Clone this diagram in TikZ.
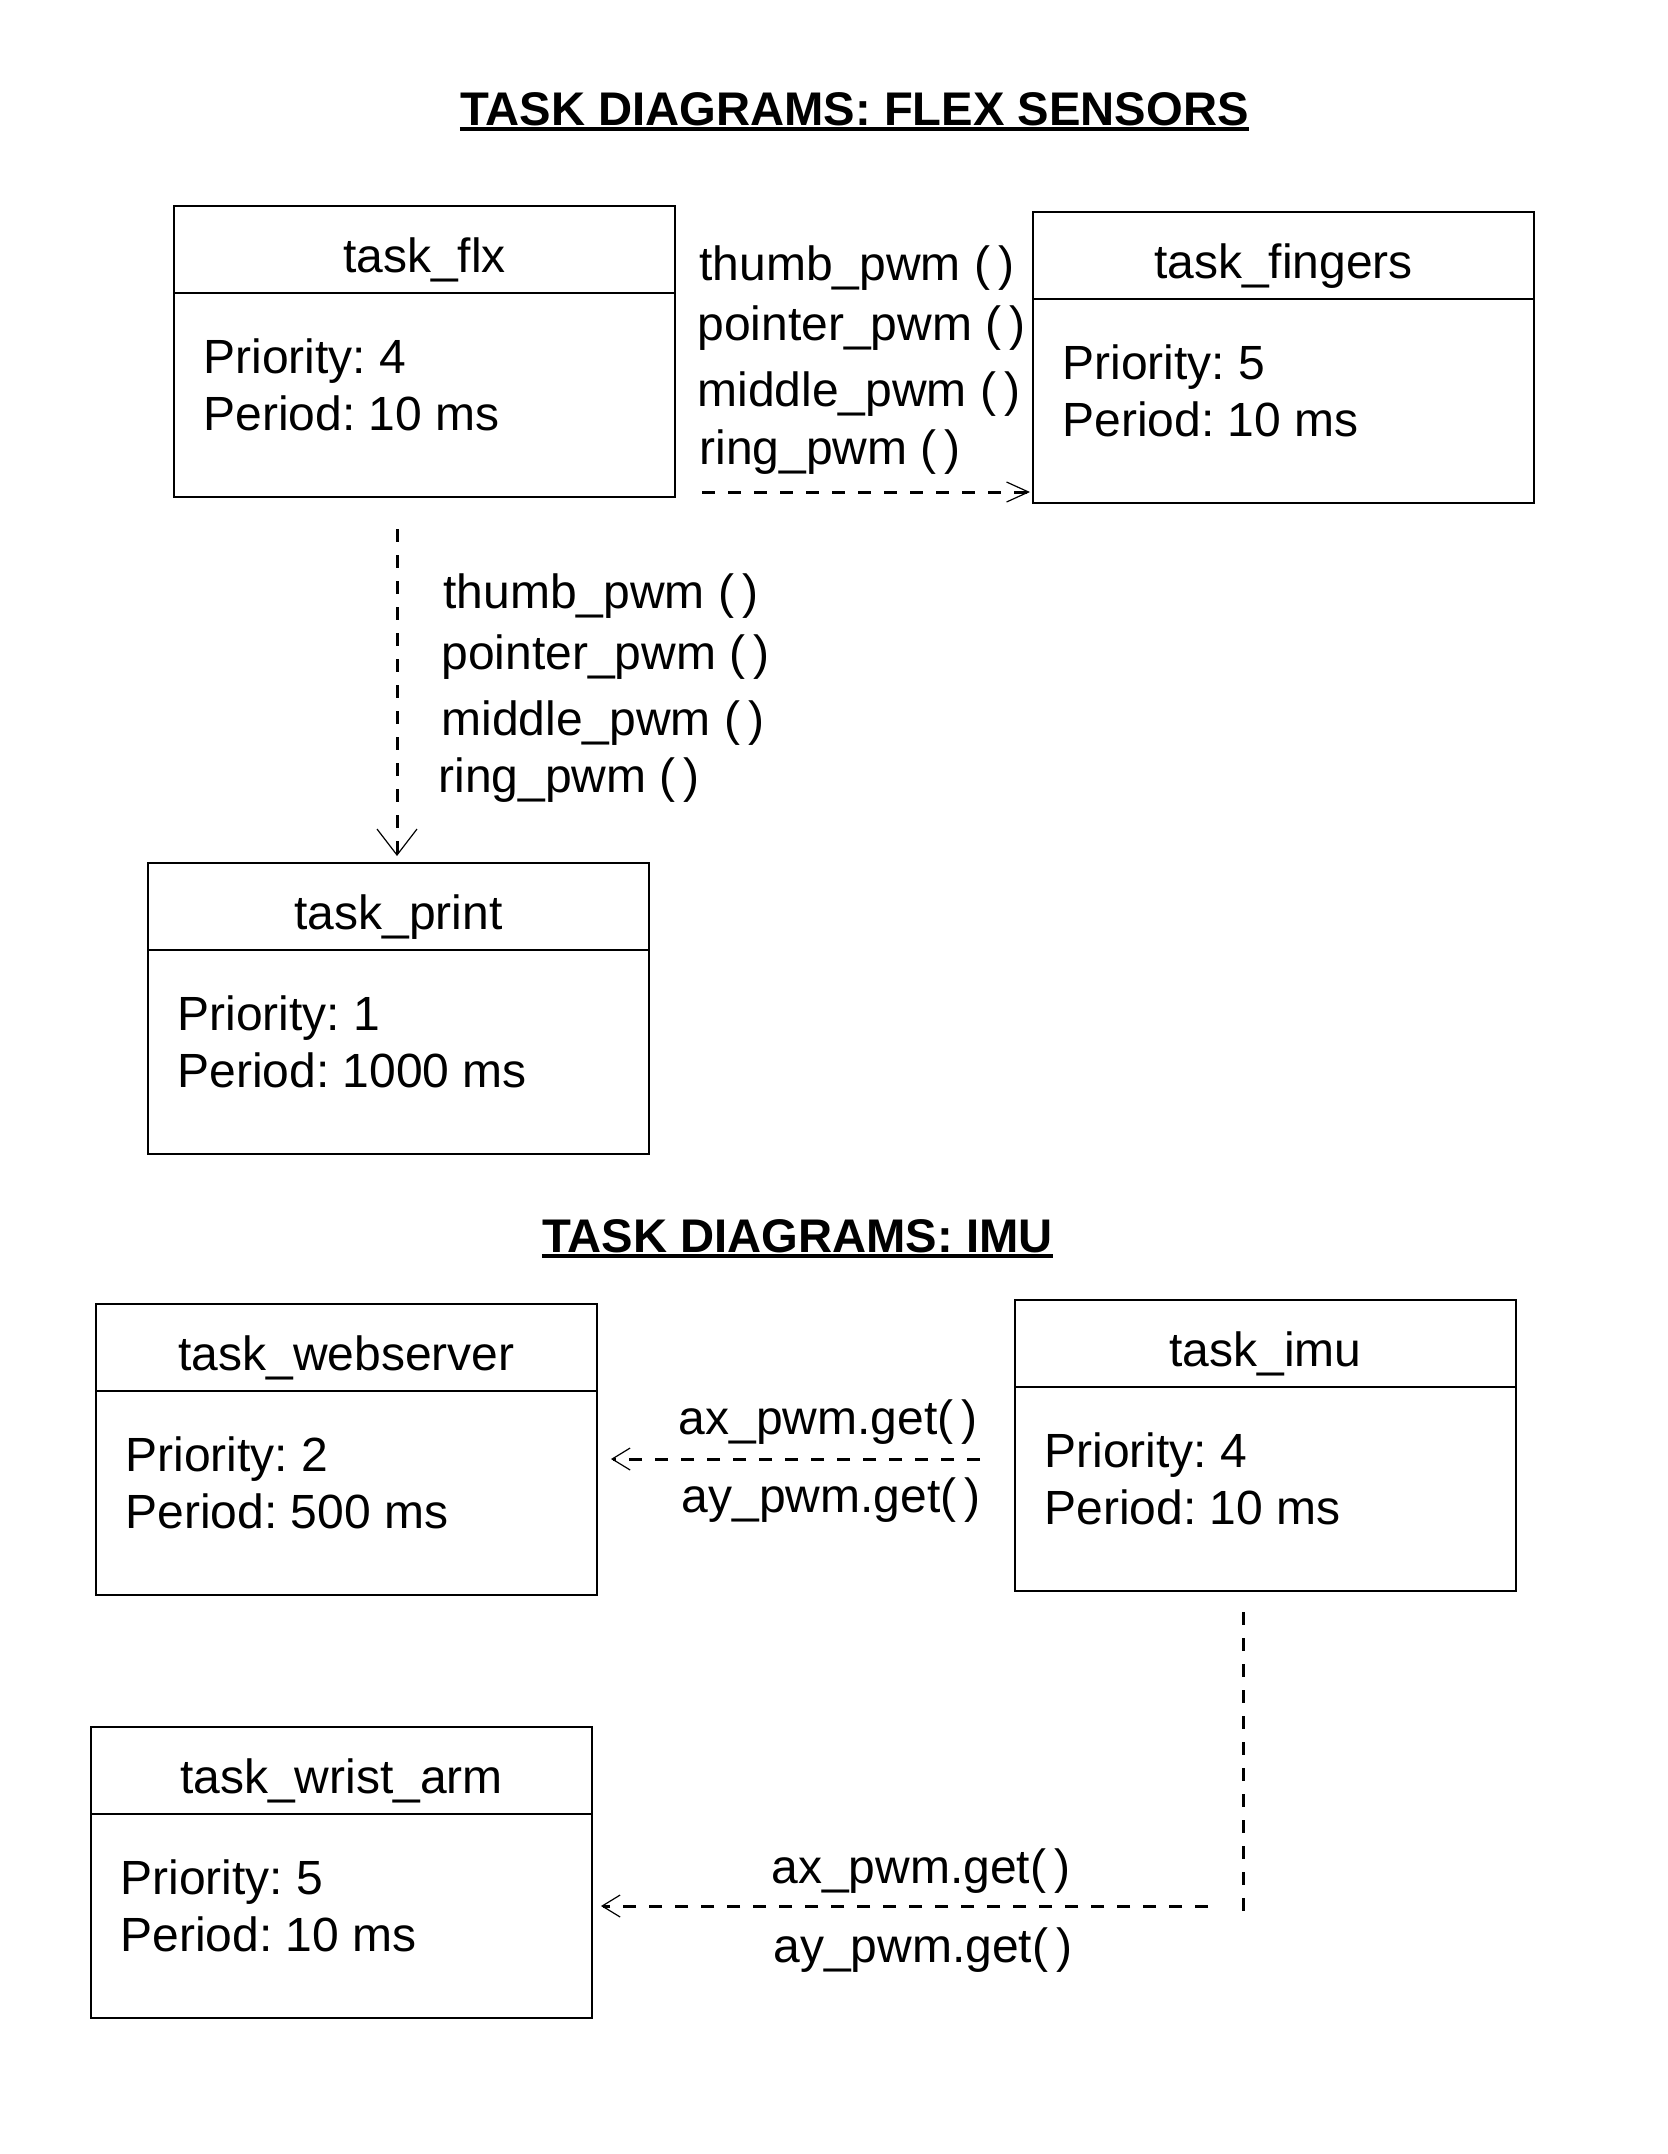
\documentclass[tikz,border=0pt]{standalone}
\usepackage{fontspec}
\setmainfont{Liberation Sans}
\frenchspacing
\usetikzlibrary{calc,arrows.meta}
\tikzset{
	taskhead/.style={draw,line width=0.9pt,outer sep=0pt,inner sep=0pt,minimum width=250.5pt,minimum height=43.5pt,text height=24pt,text depth=1.5pt},%
	taskbody/.style={draw,line width=0.9pt,outer sep=0pt,inner sep=0pt,minimum width=250.5pt,minimum height=102pt},%
	taskinfo/.style={anchor=base west,inner sep=0pt},%
	call/.style={anchor=base west,inner sep=0pt},%
	heading/.style={anchor=base,inner sep=0pt,font=\fontsize{23.6}{28.5}\selectfont\bfseries},%
	underl/.style={line width=1.75pt},%
	msg/.style={line width=1.5pt,dash pattern=on 6.5pt off 6.5pt},%
	barb/.style 2 args={-{Straight Barb[length=#1,width=#2,line width=0.6pt]}},%
}
% task box: name, left, top, title, priority, period
\def\taskbox#1#2#3#4#5#6{%
	\node[taskhead,anchor=north west] (#1) at (#2,#3) {#4};
	\node[taskbody,anchor=north west] (#1body) at (#1.south west) {};
	\node[taskinfo] (#1prio) at ($(#1body.north west)+(29,80)$) {Priority: #5};
	\node[taskinfo] (#1period) at ($(#1body.north west)+(29,137)$) {Period: #6};
}

\begin{document}
\begin{tikzpicture}[x=0.5pt,y=-0.5pt,font=\fontsize{24}{28.5}\selectfont]
	\useasboundingbox (0,0) rectangle (1668,2154);

	% flex sensors
	\node[heading] (flextitle) at (854.5,125) {TASK DIAGRAMS: FLEX SENSORS};
	\draw[underl] ([yshift=-2pt]flextitle.base west) -- ([yshift=-2pt]flextitle.base east);

	\taskbox{flx}{174}{206}{task\_flx}{4}{10 ms}
	\taskbox{fingers}{1033}{212}{task\_fingers}{5}{10 ms}
	\taskbox{print}{148}{863}{task\_print}{1}{1000 ms}

	\node[call] (fthumb) at (699,280) {thumb\_pwm (\,)};
	\node[call] (fpointer) at (697,340) {pointer\_pwm (\,)};
	\node[call] (fmiddle) at (697,406) {middle\_pwm (\,)};
	\node[call] (fring) at (699,464) {ring\_pwm (\,)};
	\coordinate (flxout) at (702,492);
	\draw[msg,barb={11pt}{10pt},shorten >=1.5pt] (flxout) -- (flxout -| fingersbody.west);

	\node[call] (pthumb) at (443,608) {thumb\_pwm (\,)};
	\node[call] (ppointer) at (441,669) {pointer\_pwm (\,)};
	\node[call] (pmiddle) at (441,735) {middle\_pwm (\,)};
	\node[call] (pring) at (438,792) {ring\_pwm (\,)};
	\coordinate (flxdown) at (397,529);
	\draw[msg,barb={13pt}{20pt},shorten >=3.5pt] (flxdown) -- (flxdown |- print.north);

	% imu
	\node[heading] (imutitle) at (797.5,1252) {TASK DIAGRAMS: IMU};
	\draw[underl] ([yshift=-2pt]imutitle.base west) -- ([yshift=-2pt]imutitle.base east);

	\taskbox{webserver}{96}{1304}{task\_webserver}{2}{500 ms}
	\taskbox{imu}{1015}{1300}{task\_imu}{4}{10 ms}
	\taskbox{wrist}{91}{1727}{task\_wrist\_arm}{5}{10 ms}

	\node[call,anchor=base east] (wax) at (978,1434) {ax\_pwm.get(\,)};
	\node[call,anchor=base east] (way) at (981,1512) {ay\_pwm.get(\,)};
	\coordinate (imuleft) at (980,1459);
	\draw[msg,barb={9pt}{11pt},shorten >=7pt] (imuleft) -- (imuleft -| webserverbody.east);

	\node[call] (rax) at (771,1883) {ax\_pwm.get(\,)};
	\node[call] (ray) at (773,1962) {ay\_pwm.get(\,)};
	\coordinate (imudown) at (1243,1612);
	\coordinate (imuturn) at (1243,1915);
	\draw[msg] (imudown) -- (imuturn);
	\coordinate (wristin) at (1208,1906);
	\draw[msg,barb={9pt}{11pt},shorten >=4.5pt] (wristin) -- (wristin -| wristbody.east);
\end{tikzpicture}
\end{document}
